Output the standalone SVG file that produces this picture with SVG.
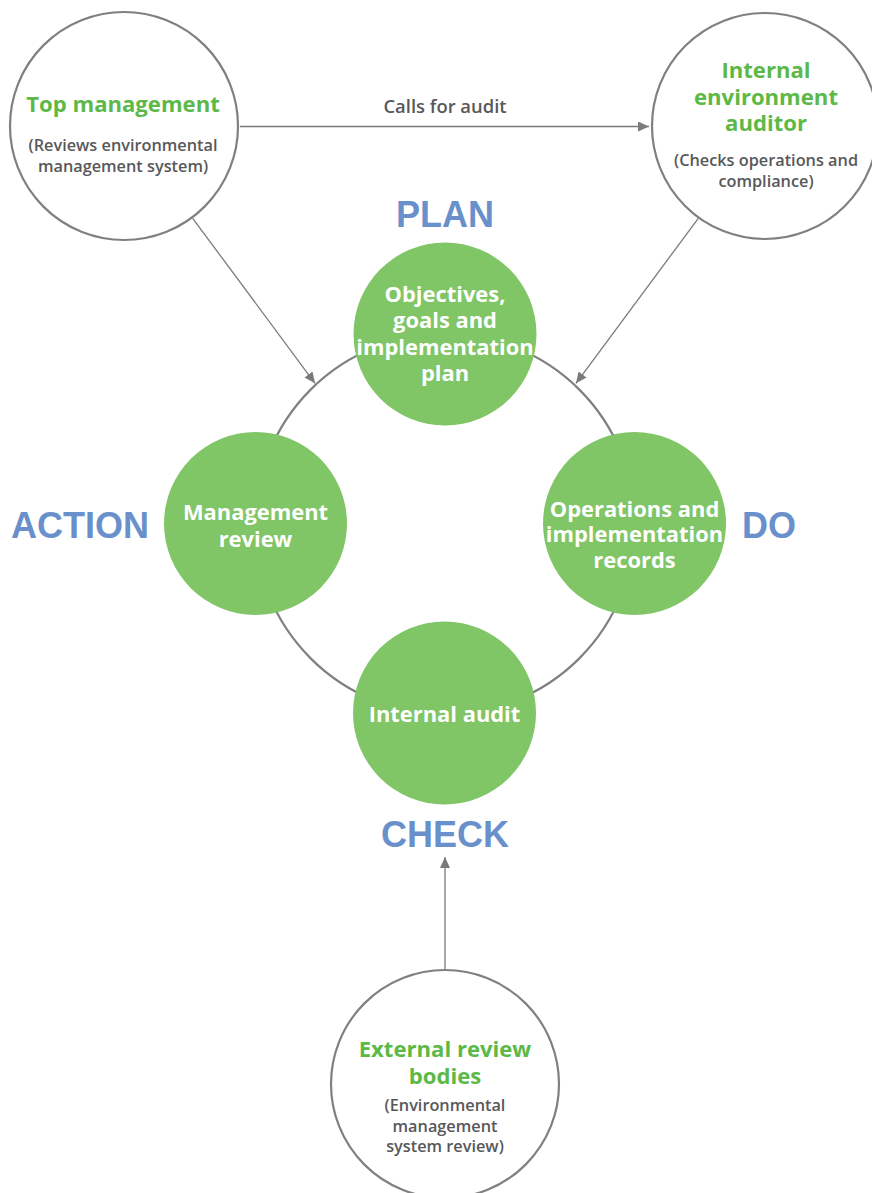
<svg xmlns="http://www.w3.org/2000/svg" width="872" height="1193" viewBox="0 0 872 1193">
<defs>
<marker id="ah" markerUnits="userSpaceOnUse" markerWidth="12" markerHeight="10" refX="11" refY="5" orient="auto">
<path d="M0,0 L11,5 L0,10 Z" fill="#7a7a7a"/>
</marker>
<style>
.ext{fill:#ffffff;stroke:#808080;stroke-width:2.2}
.cyc{fill:#80c566;stroke:none}
.ring{fill:none;stroke:#808080;stroke-width:2.2}
.conn{stroke:#7a7a7a;stroke-width:1.3;fill:none;marker-end:url(#ah)}
.gt{font-family:"Open Sans","Noto Sans",sans-serif;font-weight:700;font-size:22.1px;fill:#5cb947;text-anchor:middle}
.st{font-family:"Open Sans","Noto Sans",sans-serif;font-weight:600;font-size:16.3px;fill:#58585a;text-anchor:middle}
.wt{font-family:"Open Sans","Noto Sans",sans-serif;font-weight:700;font-size:21.9px;fill:#ffffff;text-anchor:middle}
.ph{font-family:"Liberation Sans",Arial,sans-serif;font-weight:700;font-size:36px;fill:#6a90cc;text-anchor:middle}
.lbl{font-family:"Open Sans","Noto Sans",sans-serif;font-weight:600;font-size:18.4px;fill:#58585a;text-anchor:middle}
</style>
</defs>
<rect width="872" height="1193" fill="#ffffff"/>

<circle class="ring" cx="445" cy="524" r="190"/>

<g id="connectors">
<line class="conn" x1="240" y1="126.5" x2="649" y2="126.5"/>
<line class="conn" x1="192.7" y1="218.3" x2="315" y2="383.3"/>
<line class="conn" x1="698.3" y1="218.3" x2="576" y2="383.3"/>
<line class="conn" x1="445" y1="970" x2="445" y2="857"/>
<text class="lbl" x="445" y="113">Calls for audit</text>
</g>

<g id="top-management">
<circle class="ext" cx="124" cy="126" r="114"/>
<text class="gt" x="123" y="112">Top management</text>
<text class="st" x="123" y="151">(Reviews environmental</text>
<text class="st" x="123" y="172">management system)</text>
</g>

<g id="internal-auditor">
<circle class="ext" cx="765" cy="126" r="113"/>
<text class="gt" x="766" y="78">Internal</text>
<text class="gt" x="766" y="105">environment</text>
<text class="gt" x="766" y="131">auditor</text>
<text class="st" x="766" y="166">(Checks operations and</text>
<text class="st" x="766" y="187">compliance)</text>
</g>

<g id="external-review">
<circle class="ext" cx="445" cy="1084" r="114"/>
<text class="gt" x="445" y="1057">External review</text>
<text class="gt" x="445" y="1084">bodies</text>
<text class="st" x="445" y="1111">(Environmental</text>
<text class="st" x="445" y="1132">management</text>
<text class="st" x="445" y="1152">system review)</text>
</g>

<g id="plan-node">
<circle class="cyc" cx="445" cy="334" r="91.5"/>
<text class="wt" x="445" y="302">Objectives,</text>
<text class="wt" x="445" y="328">goals and</text>
<text class="wt" x="445" y="355">implementation</text>
<text class="wt" x="445" y="381">plan</text>
</g>

<g id="do-node">
<circle class="cyc" cx="634.5" cy="523.5" r="91.5"/>
<text class="wt" x="634.5" y="517">Operations and</text>
<text class="wt" x="634.5" y="542">implementation</text>
<text class="wt" x="634.5" y="568">records</text>
</g>

<g id="check-node">
<circle class="cyc" cx="444.5" cy="713" r="91.5"/>
<text class="wt" x="444.5" y="722">Internal audit</text>
</g>

<g id="action-node">
<circle class="cyc" cx="255.5" cy="523.5" r="91.5"/>
<text class="wt" x="255.5" y="520">Management</text>
<text class="wt" x="255.5" y="546.5">review</text>
</g>

<g id="phase-labels">
<text class="ph" x="445" y="227">PLAN</text>
<text class="ph" x="80" y="538">ACTION</text>
<text class="ph" x="769" y="538">DO</text>
<text class="ph" x="445" y="847">CHECK</text>
</g>
</svg>
